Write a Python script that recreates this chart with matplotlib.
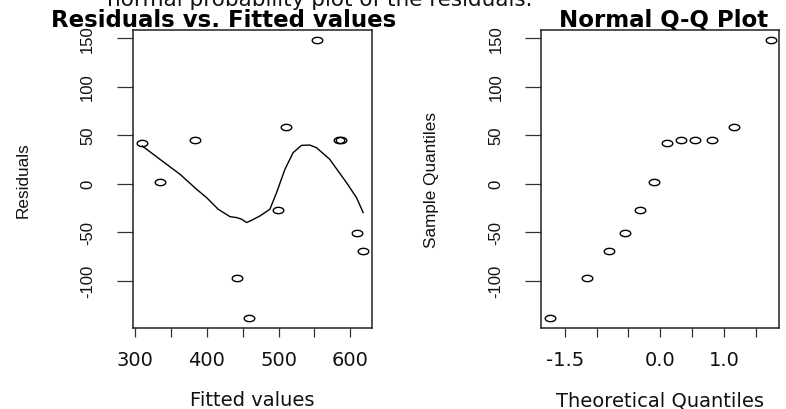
import numpy as np
import matplotlib
matplotlib.use("Agg")
from matplotlib import pyplot as plt
from matplotlib.path import Path
from matplotlib.transforms import Bbox, TransformedBbox

# values
fitted = [310.2, 335.3, 383.6, 441.6, 459.2, 499.6, 510.7, 553.5, 583.7, 586.5, 609.6, 618.0]
resid = [41.8, 2.1, 44.5, -96.7, -137.9, -27.2, 58.6, 147.4, 44.5, 45.2, -51.1, -69.7]

# smoother line drawn through the residuals
smooth_x = [310.2, 334.8, 362.7, 385.9, 399.7, 415.9, 432.2, 441.6, 448.5, 455.5, 462.4,
            474.0, 487.9, 497.2, 508.8, 520.3, 531.9, 543.5, 552.8, 571.3, 582.9, 594.6,
            608.5, 617.8]
smooth_y = [38.7, 25.0, 9.6, -5.9, -14.4, -26.4, -34.0, -35.0, -36.7, -40.1, -37.8,
            -33.3, -26.4, -9.3, 14.7, 31.9, 39.4, 39.7, 37.0, 25.0, 13.0, 1.0,
            -14.4, -29.8]

theo_q = [-1.732, -1.150, -0.812, -0.549, -0.319, -0.105, 0.105, 0.319, 0.549, 0.812, 1.150, 1.732]
sample_q = sorted(resid)

res_ticks = [-100, -50, 0, 50, 100, 150]
fit_ticks = [300, 350, 400, 450, 500, 550, 600]
fit_labels = ["300", "", "400", "", "500", "", "600"]
qq_ticks = [-1.5, -1.0, -0.5, 0.0, 0.5, 1.0, 1.5]
qq_labels = ["-1.5", "", "", "0.0", "", "1.0", ""]

W, H = 786, 410
fig = plt.figure(figsize=(W / 100, H / 100), dpi=100)

# R draws open circles; the screenshot is stretched sideways, so use a flat ellipse
t = np.linspace(0, 2 * np.pi, 41)
ring = Path(np.column_stack([np.cos(t), 0.6 * np.sin(t)]), closed=True)

hfont = "DejaVu Sans"
vfont = "Liberation Sans"


def make_axes(px):
    left, top, w, h = px
    return fig.add_axes([left / W, 1 - (top + h) / H, w / W, h / H])


def style_axes(ax, px, xticks, xlabels, xlabel, ylabel, ylabel_x):
    for s in ax.spines.values():
        s.set_linewidth(1.1)
        s.set_color("#222222")
    ax.set_xticks(xticks)
    ax.set_xticklabels(xlabels, fontfamily=hfont, fontsize=14, color="#111111")
    ax.set_yticks(res_ticks)
    ax.set_yticklabels([str(v) for v in res_ticks], fontfamily=vfont, fontsize=12,
                       color="#111111", rotation=90, va="center")
    ax.tick_params(axis="x", length=6.3, width=0.9, pad=9.5, color="#333333")
    ax.tick_params(axis="y", length=11.5, width=0.9, pad=15.5, color="#333333")
    ax.set_xlabel(xlabel, fontfamily=hfont, fontsize=14, color="#111111", va="baseline")
    ax.xaxis.set_label_coords(0.5, -(406.5 - (px[1] + px[3])) / px[3])
    ax.set_ylabel(ylabel, fontfamily=vfont, fontsize=12.3, color="#111111")
    ax.yaxis.set_label_coords((ylabel_x - px[0]) / px[2], 0.5)


# left panel: residuals vs fitted
px1 = (132.7, 30.7, 239.0, 298.6)
ax1 = make_axes(px1)
ax1.plot(fitted, resid, linestyle="none", marker=ring, markersize=7.6,
         markerfacecolor="none", markeredgecolor="black", markeredgewidth=1.0)
ax1.plot(smooth_x, smooth_y, color="black", linewidth=1.0)
ax1.set_xlim(296.8, 629.7)
ax1.set_ylim(-149, 158.5)
style_axes(ax1, px1, fit_ticks, fit_labels, "Fitted values", "Residuals", 30.8)
t1 = fig.text(224 / W, 1 - 26.7 / H, "Residuals vs. Fitted values", ha="center", va="baseline",
              fontfamily=hfont, fontweight="bold", fontsize=16.5, color="black")
t1.set_clip_box(TransformedBbox(Bbox.from_extents(0, 0, 404 / W, 1), fig.transFigure))
t1.set_clip_on(True)

# right panel: normal Q-Q plot
px2 = (541.0, 30.7, 238.3, 298.6)
ax2 = make_axes(px2)
ax2.plot(theo_q, sample_q, linestyle="none", marker=ring, markersize=7.6,
         markerfacecolor="none", markeredgecolor="black", markeredgewidth=1.0)
ax2.set_xlim(-1.872, 1.868)
ax2.set_ylim(-149, 158.5)
style_axes(ax2, px2, qq_ticks, qq_labels, "Theoretical Quantiles", "Sample Quantiles", 439.1)
fig.text(664 / W, 1 - 26.7 / H, "Normal Q-Q Plot", ha="center", va="baseline",
         fontfamily=hfont, fontweight="bold", fontsize=16.5, color="black")

# page text cut off at the top of the screenshot
fig.text(107 / W, 1 - 6.5 / H, "normal probability plot of the residuals.", ha="left",
         va="baseline", fontfamily=hfont, fontsize=15.5, color="#111111")

fig.savefig("out.png", dpi=100)
